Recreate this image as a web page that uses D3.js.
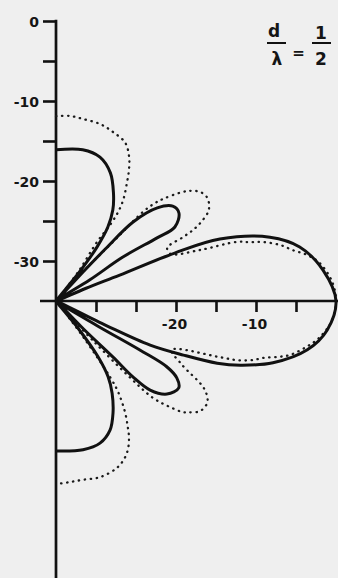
<!DOCTYPE html>
<html>
<head>
<meta charset="utf-8">
<script src="https://cdn.jsdelivr.net/npm/d3@7/dist/d3.min.js"></script>
<style>
  html, body { margin: 0; padding: 0; background: #efefef; }
  svg { display: block; }
  .lbl { font-family: "DejaVu Sans", "Liberation Sans", sans-serif; font-weight: bold; fill: #151515; }
</style>
</head>
<body>
<svg id="chart" width="338" height="578"></svg>
<script>
// Radiation pattern, relative level in dB, plotted on a half-plane polar grid.
// Angles in degrees from the array broadside axis (positive = upper half).
const levelTicks = [-30, -25, -20, -15, -10, -5, 0];
const labelledTicks = [0, -10, -20, -30];
const ratioLabel = { num: "d", den: "\u03bb", valNum: "1", valDen: "2" };

// Solid curve: [angle, level dB], traced from +90 deg round to -90 deg.
const solidAngles = [
  90, 80, 73, 67, 62, 58, 55, 52.8, 51, 49,
  47, 46.5, 45.7, 42.6, 39.1, 35.6, 31.9, 32.0, 33.3, 32, 28,
  23, 22.1, 22.0, 20.7, 16.6, 12.5, 6.6, 0,
  -6.1, -11.0, -15.9, -19.2, -21.1, -23.0, -25.1, -26, -28,
  -31, -30.3, -30.7, -32.5, -35.3, -40.0, -43.4, -44.6, -44.5, -45.5, -49,
  -51, -53, -55.5, -58.7, -63.0, -67.3, -72.8, -79.7, -90
];
const solidLevels = [
  -16.1, -15.8, -16.2, -17.6, -19.7, -21.6, -23.7, -26.5, -30.5, -35,
  -30, -26, -21.2, -17.8, -16.2, -16.1, -17.5, -20.1, -25.0, -30, -35,
  -31, -26.4, -19.0, -13.1, -7.1, -3.8, -1.4, 0,
  -0.9, -3.0, -6.8, -10.6, -13.4, -17.7, -22.0, -28, -35,
  -29, -22.8, -18.9, -17.1, -16.2, -16.9, -18.8, -21.5, -25.0, -30, -35,
  -30.5, -26.3, -23.5, -21.5, -19.3, -17.5, -16.4, -16.1, -16.25
];

// Dotted curve: [angle, level dB], same order.
const dottedAngles = [
  90, 85.7, 81.6, 76.0, 71.4, 66.4, 63.1, 60.9, 59.0, 56.4, 55.1, 54.6, 55.2, 53, 50,
  47, 46, 45.7, 44.7, 43.6, 41.1, 39.4, 37.1, 34.6, 32.1, 30.3, 28.4, 27.4, 26.7, 25.5, 22.3,
  19.5, 18.1, 16.9, 15.9, 14.0, 12.1, 10.4, 8.2, 4, 0,
  -4, -8, -10.4, -13.0, -14.2, -15.4, -16.7, -18.1, -18.9, -22.9,
  -26.9, -30.3, -32.4, -34.0, -36.3, -38.0, -40.1, -41.2, -42.9, -45, -46, -47, -50,
  -53, -54.6, -55.7, -58.1, -60.3, -61.8, -63.9, -66.3, -69.9, -76.0, -81.4, -85.6, -90
];
const dottedLevels = [
  -11.9, -11.8, -12.0, -12.2, -12.7, -13.4, -14.8, -16.25, -17.8, -19.8, -21.4, -23.3, -26.0, -30, -33,
  -29, -24, -19.4, -17.6, -16.5, -14.4, -13.3, -12.4, -12.1, -12.4, -13.0, -14.5, -15.7, -17.2, -19.6, -19.5,
  -15.9, -11.2, -9.7, -8.1, -6.1, -4.7, -3.1, -1.7, -0.4, 0,
  -0.4, -1.8, -3.2, -5.0, -6.5, -8.2, -9.3, -11.2, -13.3, -19.3,
  -17.3, -13.7, -12.6, -12.2, -12.2, -12.5, -13.4, -13.9, -15.5, -17.9, -22, -28, -33,
  -29, -23.3, -21.2, -18.7, -16.9, -15.7, -14.5, -13.6, -12.8, -12.3, -12.4, -12.3, -12.1
];

const solid = d3.zip(solidAngles, solidLevels);
const dotted = d3.zip(dottedAngles, dottedLevels);

const svg = d3.select("#chart");
const W = 338, H = 578;
const origin = { x: 56, y: 301 };
const ink = "#111";

// Radial level scale: -35 dB at the centre, 0 dB at 280 px.
const r = d3.scaleLinear().domain([-35, 0]).range([0, 280]).clamp(true);
// Same scale laid along each axis.
const yAxisScale = d3.scaleLinear().domain([-35, 0]).range([origin.y, origin.y - 280]);
const xAxisScale = d3.scaleLinear().domain([-35, 0]).range([origin.x, origin.x + 280]);

const fmt = d => labelledTicks.includes(d) ? String(d) : "";

// Vertical axis
const yAxis = svg.append("g")
  .attr("transform", `translate(${origin.x},0)`)
  .call(d3.axisLeft(yAxisScale).tickValues(levelTicks).tickSize(13).tickPadding(4).tickFormat(fmt));
yAxis.select(".domain").remove();
yAxis.selectAll(".tick line").attr("stroke", ink).attr("stroke-width", 2.6);
yAxis.selectAll(".tick text").attr("class", "lbl").attr("font-size", 14).attr("dy", "0.36em");

svg.append("line")
  .attr("x1", origin.x).attr("x2", origin.x)
  .attr("y1", yAxisScale(0) - 1.3).attr("y2", H)
  .attr("stroke", ink).attr("stroke-width", 2.7);

// Horizontal axis
const xAxis = svg.append("g")
  .attr("transform", `translate(0,${origin.y})`)
  .call(d3.axisBottom(xAxisScale).tickValues(levelTicks.filter(d => d < 0)).tickSize(11).tickPadding(7).tickFormat(d => (d === -10 || d === -20) ? String(d) : ""));
xAxis.select(".domain").remove();
xAxis.selectAll(".tick line").attr("stroke", ink).attr("stroke-width", 2.6);
xAxis.selectAll(".tick text").attr("class", "lbl").attr("font-size", 14).attr("dx", "-2");

svg.append("line")
  .attr("x1", 40).attr("x2", W)
  .attr("y1", origin.y).attr("y2", origin.y)
  .attr("stroke", ink).attr("stroke-width", 2.6);

// Pattern curves
const radial = d3.lineRadial()
  .angle(d => (90 - d[0]) * Math.PI / 180)
  .radius(d => r(d[1]))
  .curve(d3.curveCatmullRom.alpha(0.5));

const plot = svg.append("g").attr("transform", `translate(${origin.x},${origin.y})`);

plot.append("path")
  .attr("d", radial(dotted))
  .attr("fill", "none")
  .attr("stroke", "#1a1a1a")
  .attr("stroke-width", 2.3)
  .attr("stroke-linecap", "round")
  .attr("stroke-dasharray", "0.4 5.6");

plot.append("path")
  .attr("d", radial(solid))
  .attr("fill", "none")
  .attr("stroke", ink)
  .attr("stroke-width", 3)
  .attr("stroke-linejoin", "round");

// Element spacing label d/λ = 1/2
const t = svg.append("g").attr("class", "lbl");
const fs = 17;
t.append("text").attr("x", 274).attr("y", 37).attr("text-anchor", "middle").attr("font-size", fs).text(ratioLabel.num);
t.append("line").attr("x1", 267).attr("x2", 286).attr("y1", 43).attr("y2", 43).attr("stroke", ink).attr("stroke-width", 2);
t.append("text").attr("x", 277).attr("y", 65).attr("text-anchor", "middle").attr("font-size", fs).text(ratioLabel.den);
t.append("text").attr("x", 298.5).attr("y", 58).attr("text-anchor", "middle").attr("font-size", 15).text("=");
t.append("text").attr("x", 321).attr("y", 39).attr("text-anchor", "middle").attr("font-size", fs).text(ratioLabel.valNum);
t.append("line").attr("x1", 312).attr("x2", 331).attr("y1", 43).attr("y2", 43).attr("stroke", ink).attr("stroke-width", 2);
t.append("text").attr("x", 321).attr("y", 65).attr("text-anchor", "middle").attr("font-size", fs).text(ratioLabel.valDen);
</script>
</body>
</html>
